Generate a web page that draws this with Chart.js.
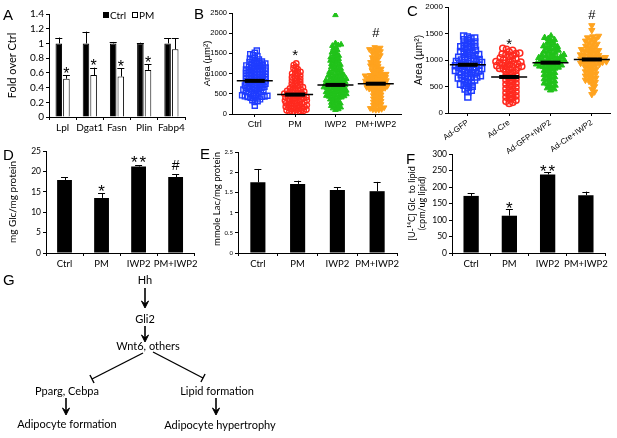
<!DOCTYPE html>
<html><head><meta charset="utf-8">
<script src="https://cdn.jsdelivr.net/npm/chart.js@4"></script>
<style>
body{margin:0;background:#fff;width:617px;height:438px;position:relative;overflow:hidden}
canvas{position:absolute}
svg{position:absolute;left:0;top:0}
</style></head><body>
<canvas id="cA"></canvas><canvas id="cB"></canvas><canvas id="cC"></canvas>
<canvas id="cD"></canvas><canvas id="cE"></canvas><canvas id="cF"></canvas>
<svg id="ov" width="617" height="438"></svg>
<script>
// ---------- DATA ----------
const aCats = ['Lpl','Dgat1','Fasn','Plin','Fabp4'];
const aCtrl = [1.0,1.0,1.0,1.0,1.0];
const aCtrlErr = [0.08,0.16,0.02,0.01,0.07];
const aPM = [0.52,0.57,0.55,0.64,0.92];
const aPMErr = [0.05,0.10,0.11,0.08,0.15];
const aMarks = ['*','*','*','*',''];
const aTicks = [0,0.2,0.4,0.6,0.8,1,1.2,1.4];

const bCats = ['Ctrl','PM','IWP2','PM+IWP2'];
const bCtrl = [1570,1515,1480,1455,1430,1395,1372,1350,1335,1312,1298,1285,1270,1262,1248,1236,1228,1212,1203,1195,1184,1171,1163,1150,1142,1131,1122,1108,1101,1093,1082,1074,1066,1052,1045,1033,1021,1012,1004,992,985,971,962,955,941,933,922,914,902,893,884,872,861,855,843,832,821,815,803,794,782,776,765,751,744,733,726,712,703,695,684,672,665,651,642,634,623,612,604,591,585,573,561,552,543,531,512,495,472,463,452,444,437,431,426,418,411,402,383,362,341,318,298,205];
const bPM = [1250,1212,1168,1133,1102,1071,1043,1012,1001,982,951,934,912,893,871,852,833,811,792,771,752,733,712,694,681,663,642,633,612,603,592,574,563,551,542,533,522,512,503,494,482,473,461,452,444,433,421,412,403,394,382,371,362,353,341,333,322,311,302,294,281,272,263,251,242,233,221,212,203,194,182,171,163,152,141,132,121,112,103,92,81,72,61,52,41,30];
const bIWP2 = [2450,1752,1721,1703,1688,1652,1618,1583,1551,1522,1498,1471,1442,1418,1402,1381,1362,1338,1321,1302,1281,1262,1238,1221,1203,1182,1161,1139,1122,1101,1082,1061,1042,1021,1003,991,982,962,951,942,921,912,903,882,871,862,851,843,832,821,812,801,792,783,772,761,752,743,731,722,713,702,691,682,671,662,651,643,632,621,612,603,592,581,572,561,552,543,532,521,512,503,492,481,472,461,452,443,431,422,411,402,381,362,343,321,302,281,262,243,221,202,181,163,142,121,103];
const bPMIWP2 = [1652,1638,1621,1603,1588,1572,1551,1532,1502,1483,1452,1431,1402,1383,1352,1331,1302,1283,1262,1241,1222,1201,1182,1161,1142,1121,1102,1083,1062,1041,1022,1003,991,982,971,962,951,942,931,922,911,902,891,882,871,862,851,842,831,822,811,802,791,782,771,762,751,742,731,722,711,702,691,682,671,662,651,642,631,622,611,602,582,561,542,521,502,481,462,441,422,401,382,361,342,321,302,281,262,241,222,201,182,161,143,122,111,102,98];
const bMeans = [820,480,720,750];
const bSems = [25,20,35,35];
const bMarks = ['','*','','#'];
const bTicks = [0,500,1000,1500,2000,2500];

const cCats = ['Ad-GFP','Ad-Cre','Ad-GFP+IWP2','Ad-Cre+IWP2'];
const cGFP = [1452,1433,1418,1402,1381,1362,1341,1322,1302,1283,1262,1251,1238,1221,1202,1183,1162,1151,1138,1121,1102,1091,1082,1062,1051,1042,1021,1012,1001,992,981,972,961,952,941,932,921,912,901,892,881,872,861,852,841,832,821,812,801,792,781,772,761,752,741,722,701,692,681,672,661,652,641,622,601,582,561,542,521,502,481,452,431,402,301];
const cCre = [1221,1203,1182,1152,1131,1122,1111,1102,1081,1062,1041,1022,1003,992,981,972,961,952,941,932,921,912,901,892,881,872,861,852,841,832,821,802,781,762,741,722,701,682,661,642,621,602,581,562,541,522,501,482,461,442,421,402,381,362,341,322,301,282,261,242,221,202,181];
const cGFPIWP2 = [1452,1421,1402,1381,1352,1321,1302,1281,1262,1251,1232,1211,1202,1181,1162,1151,1141,1122,1101,1092,1081,1072,1061,1052,1041,1032,1021,1012,1001,992,981,972,961,952,941,932,921,912,901,892,881,872,861,852,841,822,801,782,761,742,721,702,681,662,641,622,601,582,561,542,521,502,471,452,431];
const cCreIWP2 = [1652,1561,1452,1441,1422,1401,1382,1361,1342,1321,1302,1281,1262,1241,1222,1201,1192,1181,1162,1151,1142,1121,1102,1091,1082,1071,1062,1051,1042,1031,1022,1011,1002,991,982,971,962,951,942,931,922,911,902,881,862,841,822,801,782,761,742,721,702,681,662,641,622,601,581,552,501,452,401,352];
const cMeans = [910,680,950,1010];
const cSems = [30,35,30,35];
const cMarks = ['','*','','#'];
const cTicks = [0,500,1000,1500,2000];

const dCats = ['Ctrl','PM','IWP2','PM+IWP2'];
const dVals = [17.9,13.5,21.2,18.6];
const dErr = [0.7,1.1,0.3,0.7];
const dMarks = ['','*','**','#'];
const dTicks = [0,5,10,15,20,25];

const eCats = ['Ctrl','PM','IWP2','PM+IWP2'];
const eVals = [1.75,1.71,1.56,1.53];
const eErr = [0.33,0.08,0.07,0.23];
const eTicks = [0,0.5,1,1.5,2,2.5];

const fCats = ['Ctrl','PM','IWP2','PM+IWP2'];
const fVals = [173,113,238,175];
const fErr = [8,19,6,11];
const fMarks = ['','*','**',''];
const fTicks = [0,50,100,150,200,250,300];

// ---------- helpers ----------
Chart.defaults.color = '#000';
Chart.defaults.font.family = 'Lato';
const CAL = 'Lato', ARI = 'Liberation Sans';

function place(id, box){
  const c = document.getElementById(id);
  c.width = box.w; c.height = box.h;
  c.style.left = box.l+'px'; c.style.top = box.t+'px';
  return c;
}
function drawMark(ctx, txt, x, bottom, fs){
  if(!txt) return;
  ctx.save();
  ctx.fillStyle='#000'; ctx.textAlign='center'; ctx.textBaseline='alphabetic';
  const isStar = txt.indexOf('*')>=0;
  ctx.font = (isStar?fs:Math.round(fs*0.85))+'px '+ARI;
  if(isStar && txt.length>1){
    const w = fs*0.5;
    for(let k=0;k<txt.length;k++) ctx.fillText('*', x + (k-(txt.length-1)/2)*w, bottom + 0.42*fs);
  } else {
    ctx.fillText(txt, x, isStar ? bottom + 0.42*fs : bottom);
  }
  ctx.restore();
}
const errPlugin = {
  id:'errbars',
  afterDatasetsDraw(chart){
    const ctx = chart.ctx, ys = chart.scales.y;
    chart.data.datasets.forEach((ds,di)=>{
      if(!ds.errors) return;
      const meta = chart.getDatasetMeta(di);
      meta.data.forEach((bar,i)=>{
        const top = ys.getPixelForValue(ds.data[i]+ds.errors[i]);
        ctx.save(); ctx.strokeStyle='#000'; ctx.lineWidth=1;
        ctx.beginPath();
        ctx.moveTo(Math.round(bar.x)+0.5, bar.y); ctx.lineTo(Math.round(bar.x)+0.5, top);
        ctx.moveTo(bar.x-3.5, Math.round(top)+0.5); ctx.lineTo(bar.x+3.5, Math.round(top)+0.5);
        ctx.stroke(); ctx.restore();
        if(ds.marks) drawMark(ctx, ds.marks[i], bar.x, top - (ds.markGap||1), ds.markSize||15);
      });
    });
  }
};
function yScaleOpts(box, plot, o){
  return {
    min:o.min, max:o.max,
    afterFit: s=>{ s.width = plot.x0 - box.l; },
    afterBuildTicks: s=>{ s.ticks = o.ticks.map(v=>({value:v})); },
    border:{display:true,color:'#000',width:1},
    grid:{display:true,drawOnChartArea:false,drawTicks:true,tickLength:3,color:'#000'},
    ticks:{autoSkip:false,font:{family:o.tickFamily||CAL,size:o.tickSize||9},padding:2,color:'#000',callback:v=>String(v)},
    title:{display:true,text:o.title,font:{family:o.titleFamily||CAL,size:o.titleSize||10,lineHeight:o.titleLH||1.2},
      padding:{top:o.titlePad||0,bottom:0},align:o.titleAlign||'center',color:'#000'}
  };
}
function barChart(id, box, plot, cats, datasets, o){
  place(id, box);
  return new Chart(document.getElementById(id), {
    type:'bar',
    data:{labels:cats, datasets},
    options:{
      responsive:false, animation:false, devicePixelRatio:1,
      layout:{padding:{left:0, top:plot.y0-box.t, right:box.l+box.w-plot.x1, bottom:0}},
      plugins:{legend:{display:false},tooltip:{enabled:false}},
      scales:{
        x:{afterFit:s=>{ s.height = box.t+box.h-plot.y1; },
           border:{display:true,color:'#000',width:1},
           grid:{display:true,offset:true,drawOnChartArea:false,drawTicks:true,tickLength:3,color:'#000'},
           ticks:{font:{family:CAL,size:o.xSize||9.5},padding:2,autoSkip:false,maxRotation:0,color:'#000'}},
        y:yScaleOpts(box, plot, o)
      }
    },
    plugins:[errPlugin].concat(o.extra||[])
  });
}
// beeswarm layout (pixel offsets) for dot plots
function swarm(vals, pxY, D){
  const order = vals.map((v,i)=>i).sort((a,b)=>vals[a]-vals[b]);
  const placed=[], xs=new Array(vals.length);
  for(const i of order){
    const y = vals[i]*pxY;
    const near = placed.filter(p=>Math.abs(p.y-y)<D);
    const cands=[0];
    near.forEach(p=>{const dx=Math.sqrt(D*D-(p.y-y)*(p.y-y)); cands.push(p.x+dx, p.x-dx);});
    cands.sort((a,b)=>Math.abs(a)-Math.abs(b));
    let x=0;
    for(const c of cands){ if(near.every(p=>(p.x-c)*(p.x-c)+(p.y-y)*(p.y-y) >= D*D-0.01)){x=c;break;} }
    placed.push({x,y}); xs[i]=x;
  }
  return xs;
}
function dotChart(id, box, plot, cats, groups, styles, means, sems, marks, o){
  place(id, box);
  const xMin = o.xMin, xMax = o.xMax;
  const pxCat = (plot.x1-plot.x0)/(xMax-xMin);
  const pxY = (plot.y1-plot.y0)/(o.max-o.min);
  const datasets = groups.map((g,gi)=>{
    const off = swarm(g, pxY, o.D);
    return Object.assign({type:'scatter', data:g.map((v,i)=>({x:gi+off[i]/pxCat, y:v}))}, styles[gi]);
  });
  const meanPlugin = {
    id:'means',
    afterDatasetsDraw(chart){
      const ctx=chart.ctx, xs=chart.scales.x, ys=chart.scales.y;
      means.forEach((m,i)=>{
        const x=xs.getPixelForValue(i), y=ys.getPixelForValue(m);
        const y1=ys.getPixelForValue(m+sems[i]), y2=ys.getPixelForValue(m-sems[i]);
        ctx.save(); ctx.fillStyle='#000'; ctx.strokeStyle='#000';
        ctx.lineWidth=1.5; ctx.beginPath(); ctx.moveTo(x-o.mw,y); ctx.lineTo(x+o.mw,y); ctx.stroke();
        const h=Math.max(y2-y1,4);
        ctx.fillRect(x-o.sw, y-h/2, 2*o.sw, h);
        ctx.restore();
        const top = ys.getPixelForValue(Math.max.apply(null, groups[i]));
        drawMark(ctx, marks[i], x, top - o.markGap, o.markSize);
      });
    }
  };
  return new Chart(document.getElementById(id), {
    type:'scatter',
    data:{datasets},
    options:{
      responsive:false, animation:false, devicePixelRatio:1,
      layout:{padding:{left:0, top:plot.y0-box.t, right:box.l+box.w-plot.x1, bottom:0}},
      plugins:{legend:{display:false},tooltip:{enabled:false}},
      scales:{
        x:{type:'linear', min:xMin, max:xMax,
           afterFit:s=>{ s.height = box.t+box.h-plot.y1; },
           afterBuildTicks:s=>{ s.ticks = cats.map((c,i)=>({value:i})); },
           border:{display:true,color:'#000',width:1},
           grid:{display:true,drawOnChartArea:false,drawTicks:true,tickLength:3,color:'#000'},
           ticks:{font:{family:ARI,size:o.xSize},padding:o.xPad||2,autoSkip:false,
                  minRotation:o.rot||0,maxRotation:o.rot||0,color:'#000',callback:v=>cats[v]}},
        y:yScaleOpts(box, plot, o)
      }
    },
    plugins:[meanPlugin]
  });
}

// ---------- Panel A ----------
const legendA = {
  id:'legA',
  afterDraw(chart){
    const ctx=chart.ctx; ctx.save();
    ctx.fillStyle='#000'; ctx.fillRect(103,12,6,6);
    ctx.strokeStyle='#000'; ctx.lineWidth=1; ctx.strokeRect(132.5,12.5,5,5);
    ctx.font='10px '+CAL; ctx.textBaseline='middle'; ctx.textAlign='left';
    ctx.fillText('Ctrl',110,15.5); ctx.fillText('PM',139,15.5);
    ctx.restore();
  }
};
barChart('cA', {l:0,t:0,w:200,h:145}, {x0:49,x1:185,y0:14,y1:117}, aCats, [
  {data:aCtrl, errors:aCtrlErr, backgroundColor:'#000', borderColor:'#000', borderWidth:1,
   categoryPercentage:0.56, barPercentage:0.86},
  {data:aPM, errors:aPMErr, marks:aMarks, markGap:3, markSize:16, backgroundColor:'#fff', borderColor:'#000', borderWidth:1,
   categoryPercentage:0.56, barPercentage:0.86}
], {min:0,max:1.4,ticks:aTicks,title:'Fold over Ctrl',titleSize:11,titlePad:6,tickSize:10,xSize:10,extra:[legendA]});

// ---------- Panel B ----------
const blue='#1f3cff', red='#ff2a1f', green='#21c21a', orange='#ffa31f';
dotChart('cB', {l:200,t:0,w:207,h:145}, {x0:232,x1:403,y0:13,y1:114}, bCats,
  [bCtrl,bPM,bIWP2,bPMIWP2],
  [{pointStyle:'rect',radius:3.6,borderColor:blue,backgroundColor:'rgba(0,0,0,0)',borderWidth:1.4},
   {pointStyle:'circle',radius:2.7,borderColor:red,backgroundColor:'rgba(0,0,0,0)',borderWidth:1.4},
   {pointStyle:'triangle',radius:3.2,borderColor:green,backgroundColor:green,borderWidth:1},
   {pointStyle:'triangle',rotation:180,radius:3.2,borderColor:orange,backgroundColor:orange,borderWidth:1}],
  bMeans, bSems, bMarks,
  {min:0,max:2500,ticks:bTicks,xMin:-0.565,xMax:3.64,D:3,mw:18,sw:10,markGap:10,markSize:15,
   title:'Area (µm²)',titleFamily:ARI,titleSize:9.5,titlePad:2,tickFamily:ARI,tickSize:7.5,xSize:9});

// ---------- Panel C ----------
dotChart('cC', {l:405,t:0,w:212,h:160}, {x0:448,x1:610,y0:7,y1:113}, cCats,
  [cGFP,cCre,cGFPIWP2,cCreIWP2],
  [{pointStyle:'rect',radius:4.2,borderColor:blue,backgroundColor:'rgba(0,0,0,0)',borderWidth:1.5},
   {pointStyle:'circle',radius:3.1,borderColor:red,backgroundColor:'rgba(0,0,0,0)',borderWidth:1.5},
   {pointStyle:'triangle',radius:3.6,borderColor:green,backgroundColor:green,borderWidth:1},
   {pointStyle:'triangle',rotation:180,radius:3.6,borderColor:orange,backgroundColor:orange,borderWidth:1}],
  cMeans, cSems, cMarks,
  {min:0,max:2000,ticks:cTicks,xMin:-0.48,xMax:3.44,D:3.8,mw:18,sw:10,markGap:6,markSize:15,rot:35,
   title:'Area (µm²)',titleFamily:ARI,titleSize:10.5,titlePad:8,tickFamily:ARI,tickSize:8,xSize:8});

// ---------- Panel D ----------
barChart('cD', {l:0,t:140,w:200,h:140}, {x0:46,x1:196,y0:151,y1:253}, dCats, [
  {data:dVals, errors:dErr, marks:dMarks, markGap:4, markSize:17, backgroundColor:'#000', borderColor:'#000', borderWidth:0,
   categoryPercentage:1, barPercentage:0.4}
], {min:0,max:25,ticks:dTicks,title:'mg Glc/mg protein',titleSize:10,titlePad:7,tickSize:8.5,xSize:9.5});

// ---------- Panel E ----------
barChart('cE', {l:200,t:140,w:205,h:140}, {x0:238,x1:397,y0:152,y1:253}, eCats, [
  {data:eVals, errors:eErr, backgroundColor:'#000', borderColor:'#000', borderWidth:0,
   categoryPercentage:1, barPercentage:0.38}
], {min:0,max:2.5,ticks:eTicks,title:'mmole Lac/mg protein',titleSize:9.5,titlePad:11,titleAlign:'end',tickSize:6,xSize:9.5});

// ---------- Panel F ----------
barChart('cF', {l:405,t:140,w:212,h:140}, {x0:452,x1:605,y0:154,y1:253}, fCats, [
  {data:fVals, errors:fErr, marks:fMarks, markGap:3, markSize:17, backgroundColor:'#000', borderColor:'#000', borderWidth:0,
   categoryPercentage:1, barPercentage:0.4}
], {min:0,max:300,ticks:fTicks,title:['[U-¹⁴C] Glc  to lipid','(cpm/ug lipid)'],titleSize:9,titleLH:1.15,titlePad:2,tickSize:8.5,xSize:9.5});

// ---------- overlay: panel letters & diagram G ----------
const NS='http://www.w3.org/2000/svg';
const ov=document.getElementById('ov');
function el(tag, attrs, txt){ const e=document.createElementNS(NS,tag); for(const k in attrs) e.setAttribute(k,attrs[k]); if(txt!==undefined) e.textContent=txt; ov.appendChild(e); return e; }
[['A',3,14],['B',194,13],['C',407,10],['D',3,154],['E',200,153],['F',406,158],['G',3,279]].forEach(([t,x,y])=>
  el('text',{x:x,y:y,'font-family':ARI,'font-size':15,'dominant-baseline':'central',fill:'#000'},t));
function label(t,x,y){ el('text',{x:x,y:y,'font-family':CAL,'font-size':11,'text-anchor':'middle','dominant-baseline':'central',fill:'#000'},t); }
function arrow(x,y1,y2){
  el('line',{x1:x,y1:y1,x2:x,y2:y2-3,stroke:'#000','stroke-width':1.6});
  el('path',{d:`M${x-3.5},${y2-7} L${x},${y2} L${x+3.5},${y2-7} L${x},${y2-4} Z`,fill:'#000',stroke:'#000','stroke-width':1});
}
function inhib(x1,y1,x2,y2){
  el('line',{x1,y1,x2,y2,stroke:'#000','stroke-width':1.4});
  const dx=x2-x1, dy=y2-y1, L=Math.hypot(dx,dy), nx=-dy/L*4.5, ny=dx/L*4.5;
  el('line',{x1:x2-nx,y1:y2-ny,x2:x2+nx,y2:y2+ny,stroke:'#000','stroke-width':1.4});
}
label('Hh',145,279);
arrow(145,288,308);
label('Gli2',145,318);
arrow(145,326,342);
label('Wnt6, others',148,345);
inhib(143,353,92,379);
inhib(153,352,203,378);
label('Pparg, Cebpa',67,390);
arrow(66,398,415);
label('Adipocyte formation',67,423);
label('Lipid formation',217,390);
arrow(216,398,415);
label('Adipocyte hypertrophy',220,424);
</script>
</body></html>
